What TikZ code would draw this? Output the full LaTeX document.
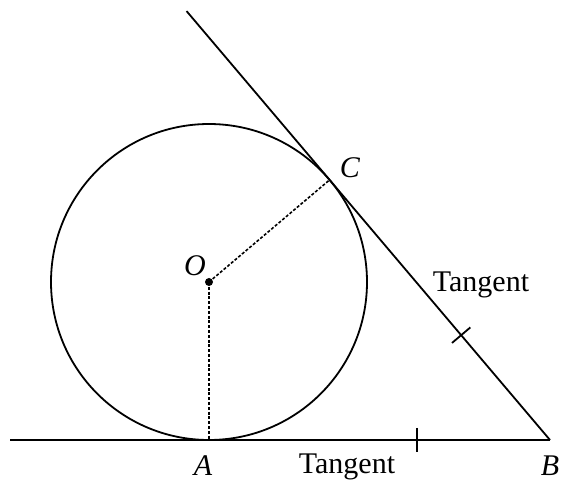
\documentclass[tikz,border=0pt]{standalone}
\usepackage{fontspec}
\setmainfont{Liberation Serif}
\usetikzlibrary{calc}
\tikzset{
  geo/.style={line width=1.8pt, black},
  rad/.style={line width=1.6pt, dash pattern=on 3pt off 1.8pt},
  lbl/.style={font=\fontsize{30}{33}\selectfont},
  pt/.style={font=\fontsize{30}{33}\selectfont\itshape},
}
\begin{document}
\begin{tikzpicture}[x=1pt,y=-1pt]
\useasboundingbox (0,0) rectangle (563,481);
\coordinate (O) at (209,282);
\coordinate (A) at (209,440);
\coordinate (B) at (550,440);
\coordinate (C) at (329.6,179.9);
\coordinate (L) at (10,440);
\coordinate (T) at ($(B)!1.649!(C)$);
% circle
\draw[geo] (O) circle (158);
% tangent lines
\draw[geo] (L) -- (B);
\draw[geo] (B) -- (T);
% radii
\draw[rad] (O) -- (A);
\draw[rad] (O) -- (C);
\fill (O) circle (4);
% tick marks
\coordinate (t1) at (417,440);
\draw[geo] ($(t1)+(0,-12)$) -- ($(t1)+(0,12)$);
\coordinate (t2) at ($(B)!0.403!(C)$);
\draw[geo] ($(t2)!12pt!90:(B)$) -- ($(t2)!12pt!-90:(B)$);
% labels
\node[pt] (lO) at (195,266) {O};
\node[pt] (lC) at (350,168) {C};
\node[pt] (lA) at (203,466) {A};
\node[pt] (lB) at (550,466) {B};
\node[lbl] (tg1) at (481,285) {Tangent};
\node[lbl] (tg2) at (347,467) {Tangent};
\end{tikzpicture}
\end{document}
